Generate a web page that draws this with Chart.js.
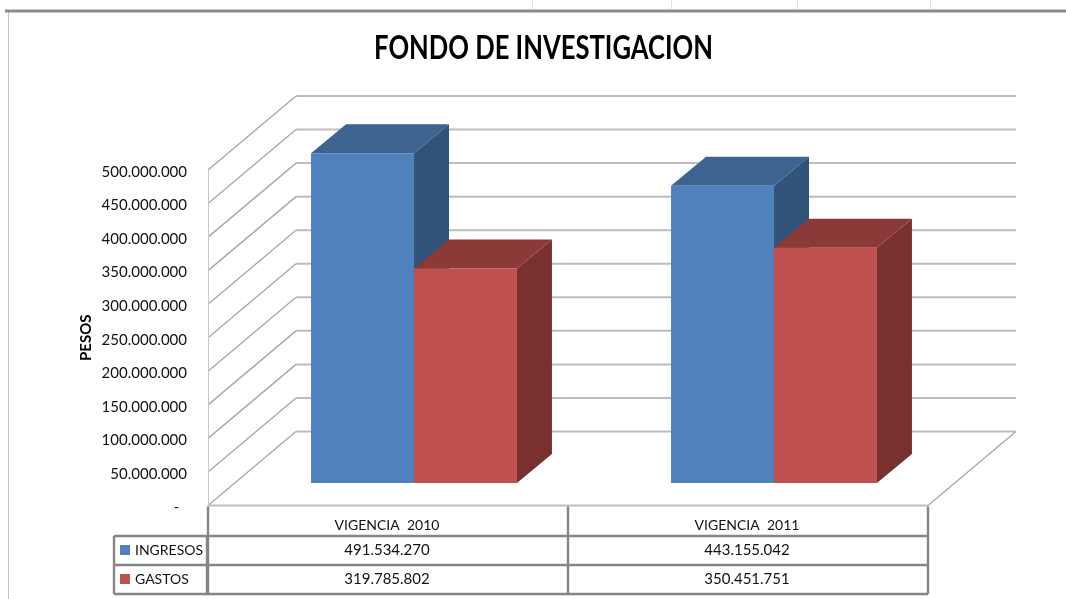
<!DOCTYPE html>
<html lang="en">
<head>
    <meta charset="UTF-8">
    <title>Fondo de Investigacion</title>
    <script src="https://cdn.jsdelivr.net/npm/chart.js"></script>
    <style>
        html, body { margin: 0; padding: 0; background: #fff; overflow: hidden; }
        canvas { display: block; }
    </style>
</head>
<body>
    <canvas id="fondoChart" width="1066" height="599"></canvas>

    <script>
        const categories = ['VIGENCIA  2010', 'VIGENCIA  2011'];
        const ingresos = [491534270, 443155042];
        const gastos = [319785802, 350451751];
        const seriesNames = ['INGRESOS', 'GASTOS'];
        const axisMax = 500000000;
        const axisStep = 50000000;

        const fontName = 'Lato, "Noto Sans", sans-serif';
        const blue = { front: '#4f81bd', side: '#315379', top: '#3d6390' };
        const red = { front: '#c0504d', side: '#793130', top: '#8c3a38' };
        const colors = [blue, red];

        // fake 3D: how far the bars sit off the front wall and how deep they are
        const wallDepth = { x: 88, y: -74 };
        const barShift = { x: 26, y: -22.5 };
        const barDepth = { x: 35, y: -29 };

        function formatPesos(value) {
            return value.toString().replace(/\B(?=(\d{3})+$)/g, '.');
        }

        function line(ctx, x1, y1, x2, y2) {
            ctx.beginPath();
            ctx.moveTo(x1, y1);
            ctx.lineTo(x2, y2);
            ctx.stroke();
        }

        function fillShape(ctx, color, points) {
            ctx.fillStyle = color;
            ctx.beginPath();
            points.forEach((p, i) => i ? ctx.lineTo(p[0], p[1]) : ctx.moveTo(p[0], p[1]));
            ctx.closePath();
            ctx.fill();
        }

        // the spreadsheet frame around the picture
        const sheetFrame = {
            id: 'sheetFrame',
            beforeDraw(chart) {
                const ctx = chart.ctx;
                ctx.save();
                ctx.strokeStyle = '#dce3ee';
                ctx.lineWidth = 1;
                [532, 671, 797, 930].forEach(x => line(ctx, x + 0.5, 0, x + 0.5, 9));
                ctx.strokeStyle = '#c4c4c4';
                line(ctx, 8.5, 11, 8.5, 599);
                ctx.strokeStyle = '#8c8c8c';
                ctx.lineWidth = 3;
                line(ctx, 5, 11, 1066, 11);
                ctx.restore();
            }
        };

        const walls = {
            id: 'walls',
            beforeDatasetsDraw(chart) {
                const ctx = chart.ctx;
                const { left, right } = chart.chartArea;
                const y = chart.scales.y;
                ctx.save();
                y.ticks.forEach(tick => {
                    const py = y.getPixelForValue(tick.value);
                    ctx.strokeStyle = '#bdbdbd';
                    ctx.lineWidth = 2;
                    line(ctx, left + wallDepth.x, py + wallDepth.y, right + wallDepth.x, py + wallDepth.y);
                    ctx.strokeStyle = '#a8a8a8';
                    ctx.lineWidth = 1.4;
                    line(ctx, left, py, left + wallDepth.x, py + wallDepth.y);
                });
                const floor = y.getPixelForValue(0);
                line(ctx, right, floor, right + wallDepth.x, floor + wallDepth.y);
                ctx.strokeStyle = '#bdbdbd';
                ctx.lineWidth = 2;
                line(ctx, left, floor, right, floor);
                ctx.strokeStyle = '#c8c8c8';
                ctx.lineWidth = 1;
                line(ctx, left + 0.5, y.getPixelForValue(axisMax), left + 0.5, floor);
                ctx.restore();
            }
        };

        // sides and tops go down first, the library then paints the bar fronts over them
        const bars3d = {
            id: 'bars3d',
            beforeDatasetsDraw(chart) {
                const ctx = chart.ctx;
                ctx.save();
                ctx.translate(barShift.x, barShift.y);
                chart.data.datasets.forEach((ds, d) => {
                    chart.getDatasetMeta(d).data.forEach(bar => {
                        const { x, y, base, width } = bar.getProps(['x', 'y', 'base', 'width'], true);
                        const l = x - width / 2;
                        const r = x + width / 2;
                        fillShape(ctx, colors[d].side, [
                            [r, y], [r + barDepth.x, y + barDepth.y],
                            [r + barDepth.x, base + barDepth.y], [r, base]
                        ]);
                        fillShape(ctx, colors[d].top, [
                            [l, y], [l + barDepth.x, y + barDepth.y],
                            [r + barDepth.x, y + barDepth.y], [r, y]
                        ]);
                    });
                });
            },
            afterDatasetsDraw(chart) {
                chart.ctx.restore();
            }
        };

        const dataTable = {
            id: 'dataTable',
            afterDraw(chart) {
                const ctx = chart.ctx;
                const { left, right, bottom } = chart.chartArea;
                const x = chart.scales.x;
                const mid = (x.getPixelForValue(0) + x.getPixelForValue(1)) / 2;
                const rows = [bottom + 30.5, bottom + 59.5, bottom + 88.5];
                const keyLeft = 114;

                ctx.save();
                ctx.strokeStyle = '#858585';
                ctx.lineWidth = 2.4;
                [left, mid, right].forEach(px => line(ctx, px, bottom + 1, px, rows[2]));
                rows.forEach(py => line(ctx, keyLeft, py, right, py));
                line(ctx, keyLeft, rows[0], keyLeft, rows[2]);
                line(ctx, left - 1, rows[0], left - 1, rows[2]);

                ctx.fillStyle = '#111';
                ctx.textBaseline = 'middle';
                ctx.textAlign = 'center';
                ctx.font = '14px ' + fontName;
                categories.forEach((c, i) => ctx.fillText(c, x.getPixelForValue(i) - 1, rows[0] - 11));
                ctx.font = '15px ' + fontName;
                [ingresos, gastos].forEach((values, s) => {
                    values.forEach((v, i) => {
                        ctx.fillText(formatPesos(v), x.getPixelForValue(i) - 1, rows[s] + 14.5);
                    });
                });
                ctx.textAlign = 'left';
                ctx.font = '14px ' + fontName;
                seriesNames.forEach((name, s) => {
                    ctx.fillStyle = colors[s].front;
                    ctx.fillRect(keyLeft + 6, rows[s] + 9, 10, 10);
                    ctx.fillStyle = '#111';
                    ctx.fillText(name, keyLeft + 21, rows[s] + 14.5);
                });
                ctx.restore();
            }
        };

        // title centred on the sheet and condensed, axis labels a little under their gridlines
        const nudges = {
            id: 'nudges',
            afterLayout(chart) {
                const title = chart.titleBlock;
                const drawTitle = title.draw;
                title.left = 21;
                title.right = 1066;
                title.draw = function () {
                    const ctx = chart.ctx;
                    ctx.save();
                    ctx.translate(543.5, 0);
                    ctx.scale(0.8, 1);
                    ctx.translate(-543.5, 0);
                    drawTitle.call(title);
                    ctx.restore();
                };
                const y = chart.scales.y;
                const drawLabels = y.drawLabels;
                y.drawLabels = function (area) {
                    chart.ctx.save();
                    chart.ctx.translate(-1, 2);
                    drawLabels.call(y, area);
                    chart.ctx.restore();
                };
            }
        };

        new Chart(document.getElementById('fondoChart').getContext('2d'), {
            type: 'bar',
            data: {
                labels: categories,
                datasets: [
                    { label: seriesNames[0], data: ingresos, backgroundColor: blue.front, clip: false },
                    { label: seriesNames[1], data: gastos, backgroundColor: red.front, clip: false }
                ]
            },
            plugins: [sheetFrame, walls, bars3d, dataTable, nudges],
            options: {
                responsive: false,
                animation: false,
                layout: { padding: { left: 77, right: 138, top: 0, bottom: 0 } },
                categoryPercentage: 0.572,
                barPercentage: 1,
                plugins: {
                    legend: { display: false },
                    tooltip: { enabled: false },
                    title: {
                        display: true,
                        text: 'FONDO DE INVESTIGACION',
                        color: '#000',
                        font: { family: fontName, size: 32, weight: 'bold' },
                        padding: { top: 29.8, bottom: 101.8 }
                    }
                },
                scales: {
                    x: {
                        grid: { display: false },
                        border: { display: false },
                        ticks: { display: false },
                        afterFit: scale => { scale.height = 93.5; }
                    },
                    y: {
                        min: 0,
                        max: axisMax,
                        grid: { display: false, drawTicks: false },
                        border: { display: false },
                        afterFit: scale => { scale.width = 131; },
                        ticks: {
                            stepSize: axisStep,
                            padding: 20,
                            color: '#111',
                            font: { family: fontName, size: 15 },
                            callback: value => value === 0 ? '-\u00a0\u00a0' : formatPesos(value)
                        },
                        title: {
                            display: true,
                            text: 'PESOS',
                            color: '#000',
                            padding: 0,
                            font: { family: fontName, size: 15, weight: 'bold' }
                        }
                    }
                }
            }
        });
    </script>
</body>
</html>
